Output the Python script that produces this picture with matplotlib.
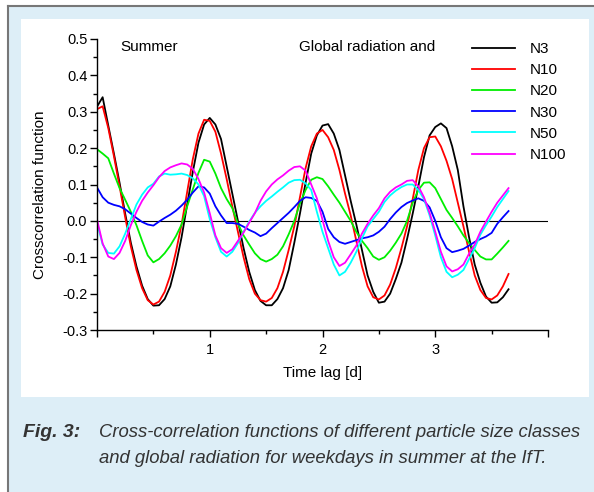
import numpy as np
import matplotlib
matplotlib.use('Agg')
import matplotlib.pyplot as plt
from matplotlib.patches import Rectangle
from matplotlib.lines import Line2D

# time lag grid in days (step 0.05 d)
lag = np.round(np.arange(0, 3.651, 0.05), 2)

n3 = [0.314, 0.340, 0.262, 0.185, 0.105, 0.020, -0.060, -0.125, -0.178, -0.215,
      -0.233, -0.232, -0.215, -0.180, -0.120, -0.045, 0.045, 0.135, 0.215, 0.265,
      0.283, 0.265, 0.225, 0.150, 0.075, 0.000, -0.075, -0.140, -0.190, -0.220,
      -0.232, -0.232, -0.215, -0.185, -0.135, -0.060, 0.020, 0.105, 0.185, 0.235,
      0.262, 0.266, 0.240, 0.195, 0.125, 0.055, -0.010, -0.080, -0.150, -0.195,
      -0.225, -0.222, -0.200, -0.160, -0.115, -0.050, 0.020, 0.095, 0.175, 0.235,
      0.258, 0.268, 0.255, 0.205, 0.140, 0.040, -0.045, -0.120, -0.170, -0.208,
      -0.225, -0.224, -0.210, -0.188]
n10 = [0.307, 0.315, 0.255, 0.178, 0.095, 0.010, -0.070, -0.135, -0.185, -0.218,
       -0.230, -0.222, -0.195, -0.150, -0.085, -0.010, 0.080, 0.170, 0.240, 0.278,
       0.275, 0.245, 0.185, 0.115, 0.040, -0.030, -0.100, -0.160, -0.200, -0.218,
       -0.222, -0.212, -0.185, -0.140, -0.080, -0.015, 0.065, 0.145, 0.205, 0.240,
       0.250, 0.230, 0.195, 0.140, 0.075, 0.015, -0.055, -0.125, -0.180, -0.210,
       -0.216, -0.205, -0.175, -0.130, -0.075, -0.015, 0.060, 0.140, 0.200, 0.230,
       0.232, 0.205, 0.165, 0.115, 0.050, -0.015, -0.085, -0.150, -0.190, -0.212,
       -0.216, -0.205, -0.180, -0.146]
n20 = [0.197, 0.185, 0.172, 0.130, 0.090, 0.058, 0.025, -0.012, -0.055, -0.095,
       -0.114, -0.105, -0.089, -0.068, -0.042, -0.010, 0.040, 0.087, 0.132, 0.168,
       0.163, 0.130, 0.090, 0.060, 0.035, -0.008, -0.040, -0.065, -0.089, -0.105,
       -0.112, -0.105, -0.093, -0.070, -0.037, 0.000, 0.048, 0.085, 0.113, 0.120,
       0.115, 0.095, 0.072, 0.050, 0.025, 0.000, -0.030, -0.055, -0.075, -0.098,
       -0.107, -0.100, -0.082, -0.060, -0.035, 0.000, 0.050, 0.085, 0.105, 0.106,
       0.090, 0.060, 0.030, 0.008, -0.015, -0.040, -0.061, -0.080, -0.098, -0.106,
       -0.106, -0.090, -0.073, -0.055]
n30 = [0.092, 0.065, 0.050, 0.044, 0.040, 0.032, 0.020, 0.008, -0.003, -0.010,
       -0.013, -0.002, 0.008, 0.017, 0.028, 0.042, 0.058, 0.078, 0.095, 0.092,
       0.075, 0.040, 0.015, -0.006, -0.006, -0.008, -0.016, -0.025, -0.032, -0.042,
       -0.035, -0.020, -0.006, 0.008, 0.022, 0.038, 0.055, 0.065, 0.063, 0.055,
       0.025, -0.022, -0.045, -0.058, -0.063, -0.058, -0.053, -0.048, -0.045, -0.040,
       -0.030, -0.016, 0.005, 0.023, 0.038, 0.049, 0.056, 0.062, 0.055, 0.037,
       0.000, -0.045, -0.075, -0.086, -0.082, -0.077, -0.068, -0.058, -0.050, -0.043,
       -0.033, -0.008, 0.010, 0.027]
n50 = [-0.005, -0.065, -0.088, -0.090, -0.070, -0.035, 0.005, 0.045, 0.072, 0.092,
       0.102, 0.122, 0.130, 0.127, 0.128, 0.130, 0.126, 0.117, 0.100, 0.068,
       0.005, -0.045, -0.085, -0.098, -0.085, -0.061, -0.030, -0.002, 0.022, 0.040,
       0.055, 0.067, 0.080, 0.092, 0.105, 0.112, 0.113, 0.103, 0.085, 0.025,
       -0.030, -0.075, -0.120, -0.150, -0.140, -0.115, -0.085, -0.048, -0.015, 0.005,
       0.025, 0.052, 0.070, 0.083, 0.093, 0.100, 0.100, 0.085, 0.060, 0.015,
       -0.040, -0.100, -0.140, -0.155, -0.148, -0.135, -0.105, -0.075, -0.038, -0.012,
       0.012, 0.038, 0.060, 0.082]
n100 = [0.004, -0.062, -0.098, -0.105, -0.088, -0.055, -0.012, 0.025, 0.055, 0.078,
        0.098, 0.120, 0.137, 0.147, 0.153, 0.158, 0.155, 0.143, 0.115, 0.078,
        0.021, -0.040, -0.075, -0.088, -0.078, -0.055, -0.032, -0.005, 0.021, 0.055,
        0.081, 0.100, 0.114, 0.125, 0.138, 0.148, 0.150, 0.138, 0.100, 0.062,
        0.003, -0.055, -0.100, -0.124, -0.115, -0.092, -0.068, -0.035, -0.008, 0.015,
        0.035, 0.062, 0.080, 0.092, 0.100, 0.110, 0.112, 0.095, 0.065, 0.022,
        -0.030, -0.085, -0.125, -0.139, -0.133, -0.120, -0.090, -0.065, -0.030, -0.002,
        0.025, 0.050, 0.070, 0.090]

series = [('N3', n3, 'black'), ('N10', n10, '#ff0000'), ('N20', n20, '#00ee00'),
          ('N30', n30, '#0000ff'), ('N50', n50, '#00ffff'), ('N100', n100, '#ff00ff')]

plt.rcParams['font.family'] = ['Liberation Sans', 'DejaVu Sans']
plt.rcParams['axes.unicode_minus'] = False

W, H = 594, 492
fig = plt.figure(figsize=(W / 100, H / 100), dpi=100)
fig.patch.set_facecolor('white')


def fx(px):
    return px / W


def fy(py):
    return 1 - py / H


# blue panel, grey frame, white inner box
fig.patches.append(Rectangle((fx(8), 0), 1, fy(6), transform=fig.transFigure,
                             facecolor='#ddeef7', edgecolor='none', zorder=-3))
fig.patches.append(Rectangle((fx(21), fy(397)), fx(589) - fx(21), fy(19) - fy(397),
                             transform=fig.transFigure, facecolor='white',
                             edgecolor='none', zorder=-2))
fig.lines.append(Line2D([fx(8), 1], [fy(6), fy(6)], transform=fig.transFigure,
                        color='#777777', lw=1.5))
fig.lines.append(Line2D([fx(8), fx(8)], [0, fy(6)], transform=fig.transFigure,
                        color='#777777', lw=1.5))

ax = fig.add_axes([fx(97), fy(330), fx(548) - fx(97), fy(39) - fy(330)])
ax.set_facecolor('none')

for name, vals, col in series:
    ax.plot(lag, vals, color=col, lw=1.3, label=name)

ax.axhline(0, color='black', lw=0.8, zorder=1)

ax.set_xlim(0, 4)
ax.set_ylim(-0.3, 0.5)
ax.set_xticks([0, 1, 2, 3, 4])
ax.set_xticklabels(['', '1', '2', '3', ''])
ax.set_xticks(np.arange(0.5, 4, 1), minor=True)
ax.set_yticks(np.arange(-0.3, 0.51, 0.1))
ax.set_yticklabels(['%.1f' % v for v in np.arange(-0.3, 0.51, 0.1)])
ax.set_yticks(np.arange(-0.25, 0.5, 0.1), minor=True)
for s in ['top', 'right']:
    ax.spines[s].set_visible(False)
for s in ['left', 'bottom']:
    ax.spines[s].set_linewidth(1.0)
ax.tick_params(which='major', length=5, width=1.0, labelsize=10.5, color='black')
ax.tick_params(which='minor', length=3, width=1.0)
ax.tick_params(axis='y', which='major', pad=2)
ax.tick_params(axis='x', which='major', pad=4)

ax.set_ylabel('Crosscorrelation function', fontsize=11)
ax.yaxis.set_label_coords((47 - 97) / 451, (330 - 195) / 291)
ax.set_xlabel('Time lag [d]', fontsize=11)
ax.xaxis.set_label_coords(0.5, (330 - 366) / 291)

ax.text((120 - 97) / 451, (330 - 47) / 291, 'Summer', transform=ax.transAxes,
        fontsize=11, va='center', ha='left')
ax.text((299 - 97) / 451, (330 - 47) / 291, 'Global radiation and', transform=ax.transAxes,
        fontsize=11, va='center', ha='left')

ax.legend(loc='upper left', bbox_to_anchor=(fx(472), fy(42)),
          bbox_transform=fig.transFigure, frameon=False, fontsize=11,
          handlelength=2.8, handletextpad=1.0, labelspacing=0.47,
          borderpad=0, borderaxespad=0)

cap_color = '#333333'
fig_lbl = fig.text(fx(23), fy(437), 'Fig. 3:', fontsize=14, fontweight='bold',
                   style='italic', color=cap_color, va='baseline')
line1 = fig.text(fx(99), fy(437), 'Cross-correlation functions of different particle size classes',
                 fontsize=14, style='italic', color=cap_color, va='baseline')
line2 = fig.text(fx(99), fy(463), 'and global radiation for weekdays in summer at the IfT.',
                 fontsize=14, style='italic', color=cap_color, va='baseline')

# fit the caption width to the reference (483 px for the first line)
fig.canvas.draw()
rend = fig.canvas.get_renderer()
w1 = line1.get_window_extent(rend).width
size = 14 * 483 / w1
line1.set_fontsize(size)
line2.set_fontsize(size)

fig.savefig('out.png', dpi=100)
